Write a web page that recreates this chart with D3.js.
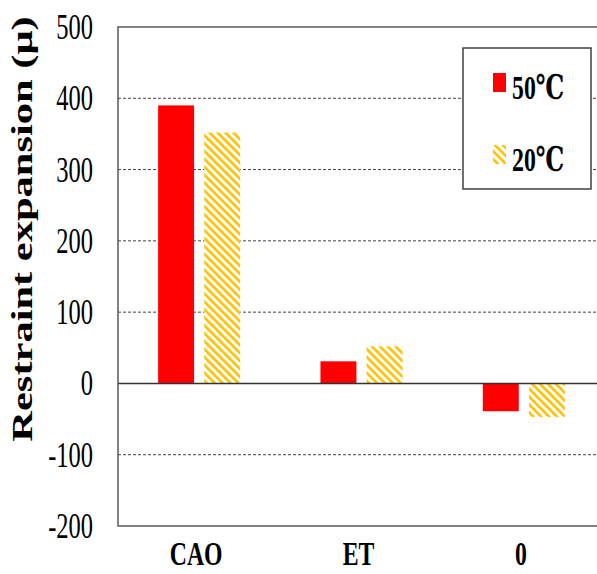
<!DOCTYPE html>
<html>
<head>
<meta charset="utf-8">
<script src="https://cdn.jsdelivr.net/npm/d3@7"></script>
<style>
  body { margin: 0; background: #fff; }
  svg { display: block; }
</style>
</head>
<body>
<div id="chart"></div>
<script>
// data
var categories = ["CAO", "ET", "0"];
var series = ["50℃", "20℃"];
var values50 = [390, 31, -39];
var values20 = [352, 52, -47];
var yTicks = [-200, -100, 0, 100, 200, 300, 400, 500];
var gridTicks = [-100, 100, 200, 300, 400];

var W = 597, H = 574;
// the picture is squeezed sideways, so text is squeezed too
var sx = 0.7;
var margin = {top: 27, right: -8, bottom: 48, left: 118},
width = W - margin.left - margin.right,
height = H - margin.top - margin.bottom;

var svg = d3.select("#chart")
	.append("svg")
	.attr("width", W)
	.attr("height", H);

// hatch for the 20 degree bars
var defs = svg.append("defs");
defs.append("pattern")
	.attr("id", "hatch")
	.attr("patternUnits", "userSpaceOnUse")
	.attr("width", 5.6)
	.attr("height", 5.6)
	.attr("patternTransform", "rotate(-45)")
	.append("rect")
	.attr("width", 2.6)
	.attr("height", 5.6)
	.attr("fill", "#FFC000");

var g = svg.append("g")
	.attr("transform", "translate(" + margin.left + "," + margin.top + ")");

var y = d3.scaleLinear()
	.domain([-200, 500])
	.range([height, 0]);

var x = d3.scaleBand()
	.domain(categories)
	.range([0, width])
	.padding(0);

var xSub = d3.scaleBand()
	.domain(series)
	.range([0, x.bandwidth()])
	.paddingInner(0.22)
	.paddingOuter(0.87);

var color = {"50℃": "#FF0000", "20℃": "url(#hatch)"};

// dashed grid
g.selectAll(".grid")
	.data(gridTicks)
	.enter()
	.append("line")
	.attr("x1", 0)
	.attr("x2", width)
	.attr("y1", function(d) { return y(d); })
	.attr("y2", function(d) { return y(d); })
	.attr("stroke", "#404040")
	.attr("stroke-width", 1)
	.attr("stroke-dasharray", "3,2");

// bars
var rows = categories.map(function(c, i) {
	return {cat: c, vals: [{s: series[0], v: values50[i]}, {s: series[1], v: values20[i]}]};
});

var groups = g.selectAll(".grp")
	.data(rows)
	.enter()
	.append("g")
	.attr("transform", function(d) { return "translate(" + x(d.cat) + ",0)"; });

groups.selectAll("rect.back")
	.data(function(d) { return d.vals; })
	.enter()
	.append("rect")
	.attr("x", function(d) { return xSub(d.s); })
	.attr("y", function(d) { return y(Math.max(0, d.v)); })
	.attr("width", xSub.bandwidth())
	.attr("height", function(d) { return Math.abs(y(d.v) - y(0)); })
	.attr("fill", "#fff");

groups.selectAll("rect.bar")
	.data(function(d) { return d.vals; })
	.enter()
	.append("rect")
	.attr("x", function(d) { return xSub(d.s); })
	.attr("y", function(d) { return y(Math.max(0, d.v)); })
	.attr("width", xSub.bandwidth())
	.attr("height", function(d) { return Math.abs(y(d.v) - y(0)); })
	.attr("fill", function(d) { return color[d.s]; });

// zero line
g.append("line")
	.attr("x1", 0)
	.attr("x2", width)
	.attr("y1", y(0))
	.attr("y2", y(0))
	.attr("stroke", "#333")
	.attr("stroke-width", 1.5);

// frame: left, top, bottom
g.append("path")
	.attr("d", "M" + width + ",0H0V" + height + "H" + width)
	.attr("fill", "none")
	.attr("stroke", "#595959")
	.attr("stroke-width", 1.5);

// y axis labels (plain hyphen minus, like the original)
var yAxis = g.append("g")
	.call(d3.axisLeft(y).tickValues(yTicks).tickSize(0).tickFormat(function(d) { return String(d); }));
yAxis.select(".domain").remove();
yAxis.selectAll("text")
	.attr("x", -25 / sx)
	.attr("dy", "0.33em")
	.attr("transform", "scale(" + sx + ",1)")
	.style("font-family", "'Liberation Serif', 'Times New Roman', serif")
	.style("font-size", "35px")
	.style("fill", "#000");

// category labels
g.selectAll(".cat")
	.data(categories)
	.enter()
	.append("text")
	.attr("transform", function(d) {
		return "translate(" + (x(d) + x.bandwidth() / 2 - 3) + "," + (height + 39) + ") scale(" + sx + ",1)";
	})
	.attr("text-anchor", "middle")
	.style("font-family", "'Liberation Serif', 'Times New Roman', serif")
	.style("font-weight", "bold")
	.style("font-size", "34px")
	.text(function(d) { return d; });

// y title
svg.append("text")
	.attr("transform", "translate(32,229) scale(" + sx + ",1) rotate(-90)")
	.attr("text-anchor", "middle")
	.style("font-family", "'Liberation Serif', 'Times New Roman', serif")
	.style("font-weight", "bold")
	.style("font-size", "42.5px")
	.text("Restraint expansion (μ)");

// legend
var legend = svg.append("g");
legend.append("rect")
	.attr("x", 463)
	.attr("y", 48)
	.attr("width", 128)
	.attr("height", 141)
	.attr("fill", "#fff")
	.attr("stroke", "#404040")
	.attr("stroke-width", 1.5);

var items = legend.selectAll(".item")
	.data(series)
	.enter()
	.append("g")
	.attr("transform", function(d, i) { return "translate(493," + (73 + i * 72) + ")"; });

items.append("rect")
	.attr("width", 13)
	.attr("height", 19)
	.attr("fill", function(d) { return color[d]; });

items.append("text")
	.attr("transform", "translate(19,26) scale(" + sx + ",1)")
	.style("font-family", "'Liberation Serif', 'DejaVu Serif', serif")
	.style("font-weight", "bold")
	.style("font-size", "34px")
	.text(function(d) { return d; });
</script>
</body>
</html>
